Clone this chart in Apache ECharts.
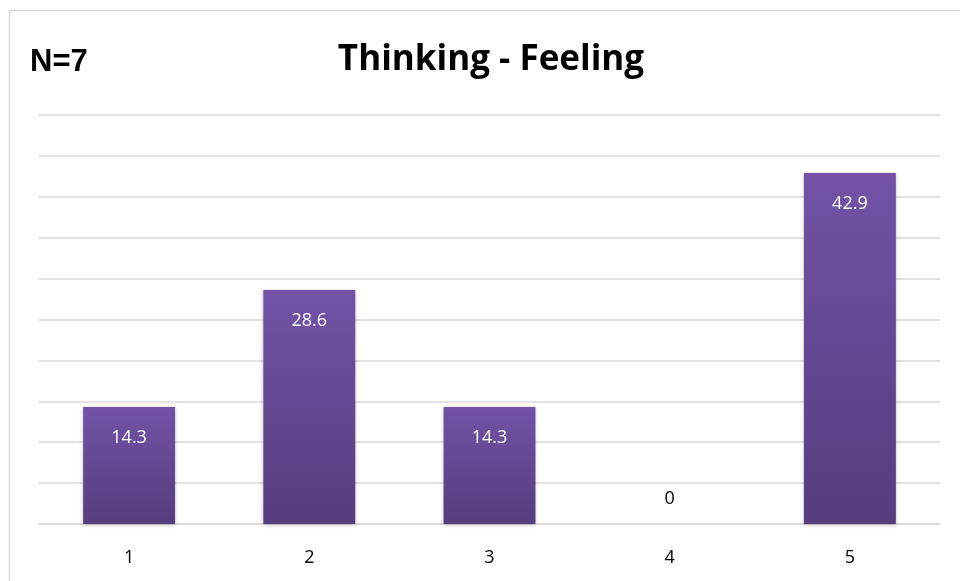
<!DOCTYPE html>
<html>
<head>
<meta charset="utf-8">
<script src="https://cdn.jsdelivr.net/npm/echarts@6/dist/echarts.min.js"></script>
<style>
  html, body { margin: 0; padding: 0; background: #ffffff; }
  #chart { width: 960px; height: 581px; }
</style>
</head>
<body>
<div id="chart"></div>
<script>
const categories = ['1', '2', '3', '4', '5'];
const percents = [14.3, 28.6, 14.3, 0, 42.9];
const chartTitle = 'Thinking - Feeling';
const sampleNote = 'N=7';

const chart = echarts.init(document.getElementById('chart'), null, { renderer: 'canvas' });

const barFill = new echarts.graphic.LinearGradient(0, 0, 0, 1, [
  { offset: 0, color: '#7352a6' },
  { offset: 1, color: '#553d7e' }
]);

// a zero bar has no height, so its label sits just above the baseline in dark text
const barData = percents.map(v => {
  if (v === 0) {
    return {
      value: v,
      label: { position: 'top', distance: 16, color: '#000000' }
    };
  }
  return { value: v };
});

chart.setOption({
  animation: false,
  backgroundColor: '#ffffff',
  graphic: [
    {
      type: 'rect',
      shape: { x: 9.5, y: 10.5, width: 1000, height: 620 },
      style: { fill: 'none', stroke: '#d9d9d9', lineWidth: 1.5 },
      silent: true
    },
    {
      type: 'text',
      left: 30, top: 47,
      style: {
        text: sampleNote,
        font: 'bold 31px "Liberation Sans", Arial, sans-serif',
        fill: '#000000'
      }
    }
  ],
  title: {
    text: chartTitle,
    left: 486,
    textAlign: 'center',
    top: 38,
    textStyle: {
      fontFamily: '"Open Sans", sans-serif',
      fontWeight: 'bold',
      fontSize: 35,
      color: '#000000'
    }
  },
  grid: { left: 39, right: 20, top: 115, bottom: 57 },
  xAxis: {
    type: 'category',
    data: categories,
    axisLine: { show: true, lineStyle: { color: '#d9d9d9', width: 1.5 } },
    axisTick: { show: false },
    axisLabel: {
      margin: 25,
      fontSize: 18,
      color: '#000000',
      fontFamily: '"Open Sans", sans-serif'
    }
  },
  yAxis: {
    type: 'value',
    min: 0,
    max: 50,
    interval: 5,
    axisLabel: { show: false },
    axisLine: { show: false },
    axisTick: { show: false },
    splitLine: { lineStyle: { color: '#d9d9d9', width: 1.5 } }
  },
  series: [{
    type: 'bar',
    data: barData,
    barWidth: '51%',
    itemStyle: {
      color: barFill,
      shadowBlur: 4,
      shadowColor: 'rgba(0,0,0,0.25)',
      shadowOffsetY: 1
    },
    label: {
      show: true,
      position: 'insideTop',
      distance: 22,
      color: '#ffffff',
      fontSize: 18,
      fontFamily: '"Open Sans", sans-serif'
    }
  }]
});
</script>
</body>
</html>
